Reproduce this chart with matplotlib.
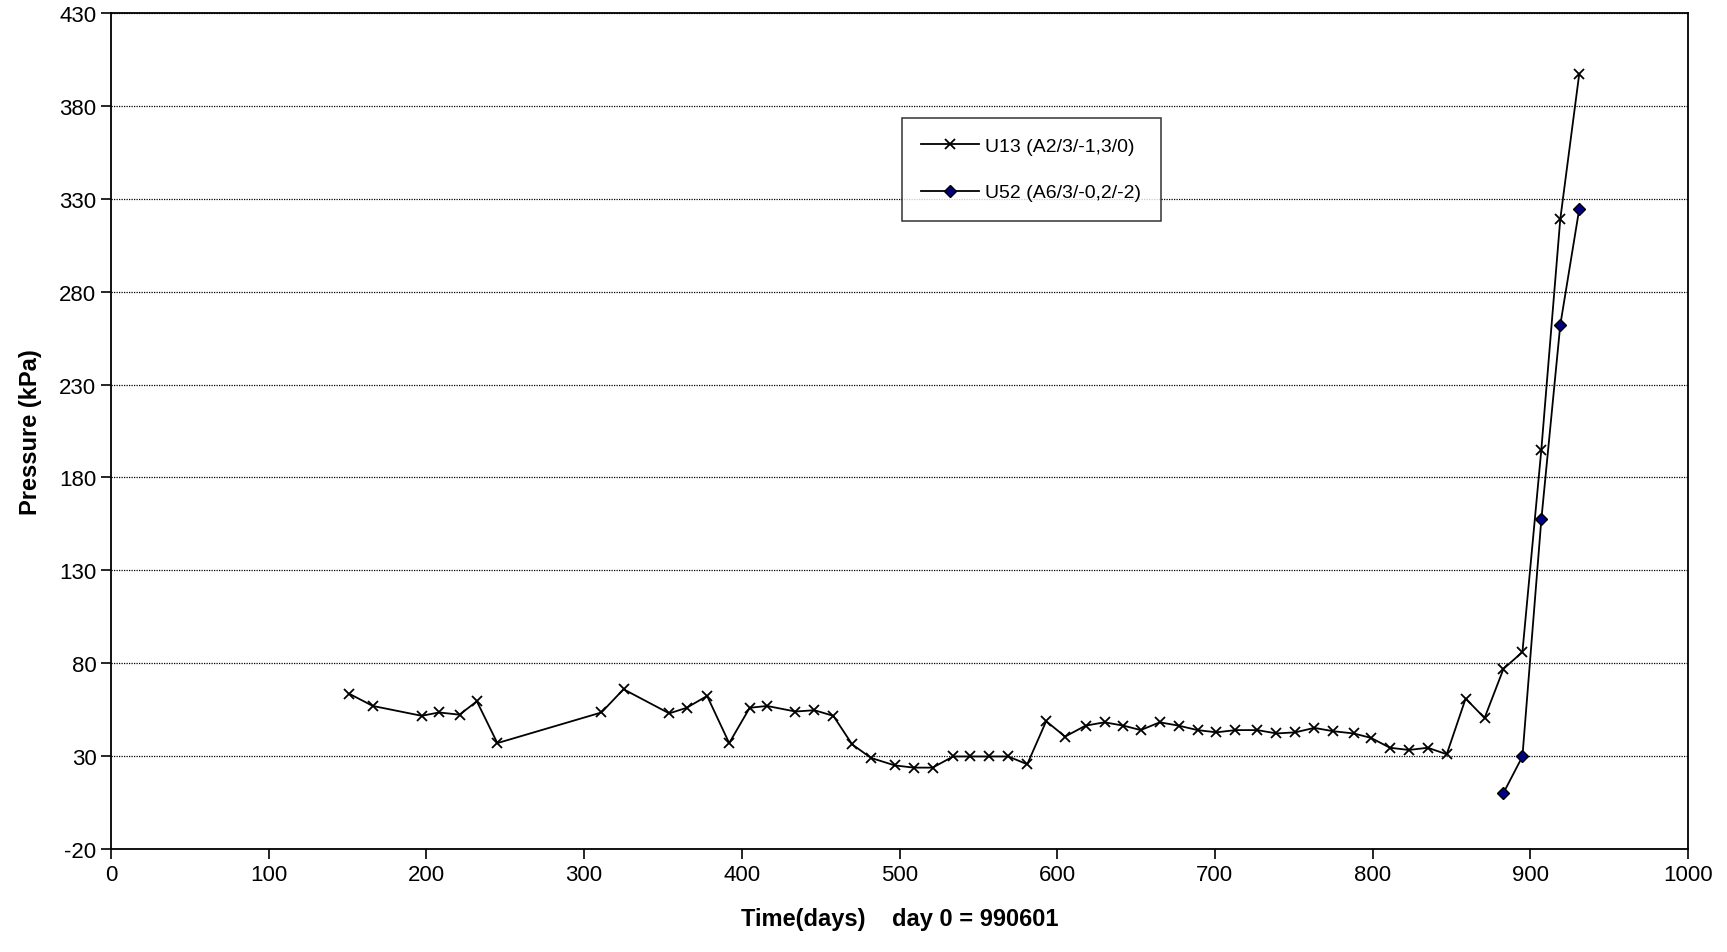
import matplotlib
matplotlib.use("Agg")
import matplotlib.pyplot as plt

plt.rcParams['font.family'] = ['Liberation Sans', 'DejaVu Sans']
plt.rcParams['axes.unicode_minus'] = False

u13_days = [151, 166, 197, 208, 221, 232, 245, 311, 325, 354, 365, 378, 392, 405, 416,
            434, 446, 458, 470, 482, 497, 509, 521, 534, 545, 557, 569, 581, 593, 605,
            618, 630, 642, 653, 665, 677, 689, 701, 713, 727, 739, 751, 763, 775, 788,
            799, 811, 823, 835, 847, 859, 871, 883, 895, 907, 919, 931]
u13_kpa = [63.6, 57, 51.7, 53.5, 52.3, 59.5, 37, 53.5, 66, 53, 56, 62.4, 37, 56, 57,
           54, 54.7, 51.7, 36.3, 29, 25, 23.8, 23.8, 29.8, 29.8, 29.8, 29.8, 25.6, 48.8, 40.5,
           46.4, 48.2, 46.4, 44, 48.2, 46.4, 44, 42.8, 44, 44, 42.2, 42.8, 45.2, 43.4, 42.2,
           39.8, 34.5, 33.3, 34.5, 31, 61, 50.5, 77, 86, 195, 319, 397]
u52_days = [883, 895, 907, 919, 931]
u52_kpa = [10.2, 29.8, 157.4, 262, 324.3]

fig = plt.figure(figsize=(17.27, 9.53), dpi=100)
ax = fig.add_axes([111 / 1727, 1 - 850 / 953, 1577 / 1727, 836 / 953])

ax.plot(u13_days, u13_kpa, color='black', lw=1.3, marker='x', ms=7, mew=1.3,
        label='U13 (A2/3/-1,3/0)')
ax.plot(u52_days, u52_kpa, color='black', lw=1.3, marker='D', ms=6.5,
        mfc='#000080', mec='black', label='U52 (A6/3/-0,2/-2)')

ax.set_xlim(0, 1000)
ax.set_ylim(-20, 430)
ax.set_xticks(range(0, 1001, 100))
ax.set_yticks(range(-20, 431, 50))
ax.tick_params(labelsize=16, direction='out', length=7, width=1.2)
ax.yaxis.grid(True, color='black', linestyle=(0, (1, 1)), lw=0.9)
ax.set_axisbelow(True)
for s in ax.spines.values():
    s.set_linewidth(1.3)

ax.set_xlabel('Time(days)    day 0 = 990601', fontsize=17, fontweight='bold', labelpad=16)
ax.set_ylabel('Pressure (kPa)', fontsize=17, fontweight='bold', labelpad=12)

leg = ax.legend(loc='upper left', bbox_to_anchor=(709 / 1432, 1 - 86 / 758), fontsize=14,
                frameon=True, fancybox=False, edgecolor='black', borderpad=1.0,
                labelspacing=1.5, handlelength=3, handletextpad=0.3)
leg.get_frame().set_linewidth(1.1)

fig.savefig('out.png', dpi=100)
